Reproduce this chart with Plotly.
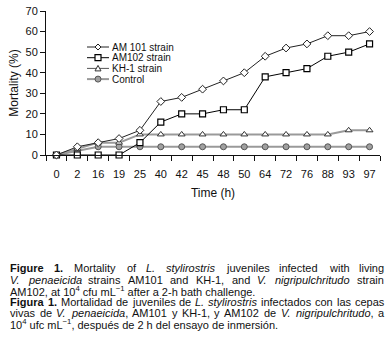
import re
import plotly.graph_objects as go

# ---- data ----
time_labels = ["0", "2", "16", "19", "25", "40", "42", "45", "48", "50", "64", "72", "76", "88", "93", "97"]
am101 = [0, 4, 6, 8, 12, 26, 28, 32, 36, 40, 48, 52, 54, 58, 58, 60]
am102 = [0, 0, 0, 0, 6, 16, 20, 20, 22, 22, 38, 40, 42, 48, 50, 54]
kh1 = [0, 3, 6, 6, 10, 10, 10, 10, 10, 10, 10, 10, 10, 10, 12, 12]
control = [0, 2, 4, 4, 4, 4, 4, 4, 4, 4, 4, 4, 4, 4, 4, 4]
series_names = ["AM 101 strain", "AM102 strain", "KH-1 strain", "Control"]
y_ticks = [0, 10, 20, 30, 40, 50, 60, 70]

W, H = 385, 356
L, R, T, B = 46, 5, 7, 201
PW, PH = W - L - R, H - T - B


def px(x):
    return (x - L) / PW


def py(y):
    return (H - B - y) / PH


FONT = "Liberation Sans, Arial, sans-serif"

fig = go.Figure()

styles = [
    (control, series_names[3], dict(color="#9a9a9a", width=2), dict(symbol="circle", size=6, color="#a0a0a0", line=dict(color="#555", width=1))),
    (kh1, series_names[2], dict(color="#9a9a9a", width=2), dict(symbol="triangle-up", size=6, color="white", line=dict(color="#333", width=1))),
    (am102, series_names[1], dict(color="#000", width=1), dict(symbol="square", size=6, color="white", line=dict(color="#000", width=1.2))),
    (am101, series_names[0], dict(color="#222", width=1), dict(symbol="diamond", size=6, color="white", line=dict(color="#222", width=1))),
]
for vals, name, line, marker in styles:
    fig.add_trace(go.Scatter(x=time_labels, y=vals, name=name, mode="lines+markers",
                             line=line, marker=marker, cliponaxis=False, showlegend=False))

# ---- manual legend (compact, like the original) ----
shapes = []
annotations = []
leg_rows = [44, 55, 66, 77]
leg_line_col = ["#222", "#000", "#555", "#9a9a9a"]
leg_line_w = [1, 1, 1, 2]
for i, (yy, name) in enumerate(zip(leg_rows, series_names)):
    shapes.append(dict(type="line", xref="paper", yref="paper", x0=px(87), x1=px(109), y0=py(yy), y1=py(yy),
                       line=dict(color=leg_line_col[i], width=leg_line_w[i])))
    common = dict(xref="paper", yref="paper", xsizemode="pixel", ysizemode="pixel",
                  xanchor=px(98), yanchor=py(yy))
    if i == 0:
        shapes.append(dict(type="path", path="M0,3 L3,0 L0,-3 L-3,0 Z", fillcolor="white",
                           line=dict(color="#222", width=1), **common))
    elif i == 1:
        shapes.append(dict(type="rect", x0=-3, x1=3, y0=-3, y1=3, fillcolor="white",
                           line=dict(color="#000", width=1.2), **common))
    elif i == 2:
        shapes.append(dict(type="path", path="M-3,-2.5 L3,-2.5 L0,3 Z", fillcolor="white",
                           line=dict(color="#333", width=1), **common))
    else:
        shapes.append(dict(type="circle", x0=-3, x1=3, y0=-3, y1=3, fillcolor="#a0a0a0",
                           line=dict(color="#555", width=1), **common))
    annotations.append(dict(text=name, xref="paper", yref="paper", x=px(110), y=py(yy),
                            xanchor="left", yanchor="middle", showarrow=False,
                            font=dict(family=FONT, size=10, color="#111")))

# ---- caption (justified like the printed figure) ----
REG = {" ": 278, ",": 278, "-": 333, ".": 278, "(": 333, ")": 333, "%": 889}
for c in "0123456789":
    REG[c] = 556
REG.update(dict(A=667, B=667, C=722, D=722, E=667, F=611, G=778, H=722, I=278, J=500, K=667, L=556,
                M=833, N=722, O=778, P=667, Q=778, R=722, S=667, T=611, U=722, V=667, W=944, X=667,
                Y=667, Z=611))
REG.update(dict(a=556, b=556, c=500, d=556, e=556, f=278, g=556, h=556, i=222, j=222, k=500, l=222,
                m=833, n=556, o=556, p=556, q=556, r=333, s=500, t=278, u=556, v=500, w=722, x=500,
                y=500, z=500))
BOLD = dict(REG)
BOLD.update(dict(F=611, i=278, g=611, u=611, r=389, e=556, a=556))

CAP_SIZE = 11
CAP_LEFT, CAP_RIGHT = 8, 382


def word_width(w):
    bold = "<b>" in w
    plain = re.sub(r"<[^>]+>", "", w)
    tab = BOLD if bold else REG
    return sum(tab.get(ch, 556) for ch in plain) * CAP_SIZE / 1000.0


caption_lines = [
    ("<b>Figure</b> <b>1.</b> Mortality of <i>L.</i> <i>stylirostris</i> juveniles infected with living", True),
    ("<i>V.</i> <i>penaeicida</i> strains AM101 and KH-1, and <i>V.</i> <i>nigripulchritudo</i> strain", True),
    ("AM102, at 10<sup>4</sup> cfu mL<sup>−1</sup> after a 2-h bath challenge.", False),
    ("<b>Figura</b> <b>1.</b> Mortalidad de juveniles de <i>L.</i> <i>stylirostris</i> infectados con las cepas", True),
    ("vivas de <i>V.</i> <i>penaeicida</i>, AM101 y KH-1, y AM102 de <i>V.</i> <i>nigripulchritudo</i>, a", True),
    ("10<sup>4</sup> ufc mL<sup>−1</sup>, después de 2 h del ensayo de inmersión.", False),
]
caption_rows = [271.5, 283, 294.5, 306, 317.5, 329]

for (text, justify), yy in zip(caption_lines, caption_rows):
    if not justify:
        annotations.append(dict(text=text, xref="paper", yref="paper", x=px(CAP_LEFT), y=py(yy),
                                xanchor="left", yanchor="middle", showarrow=False,
                                font=dict(family=FONT, size=CAP_SIZE, color="#111")))
        continue
    words = text.split(" ")
    widths = [word_width(w) for w in words]
    gap = (CAP_RIGHT - CAP_LEFT - sum(widths)) / (len(words) - 1)
    xx = CAP_LEFT
    for w, wd in zip(words, widths):
        annotations.append(dict(text=w, xref="paper", yref="paper", x=px(xx), y=py(yy),
                                xanchor="left", yanchor="middle", showarrow=False,
                                font=dict(family=FONT, size=CAP_SIZE, color="#111")))
        xx += wd + gap

fig.update_layout(
    width=W, height=H,
    margin=dict(l=L, r=R, t=T, b=B),
    paper_bgcolor="white", plot_bgcolor="white",
    showlegend=False,
    font=dict(family=FONT, color="#111"),
    shapes=shapes,
    annotations=annotations,
    xaxis=dict(type="category", categoryorder="array", categoryarray=time_labels,
               range=[-0.5, len(time_labels) - 0.5], tickangle=0, ticklabelstandoff=9,
               showline=True, linecolor="#111", linewidth=1, ticks="outside", ticklen=5,
               tickcolor="#111", tickson="boundaries", showgrid=False, zeroline=False,
               tickfont=dict(size=11, family=FONT, color="#111"),
               title=dict(text="Time (h)", font=dict(size=12, family=FONT, color="#111"), standoff=9)),
    yaxis=dict(range=[0, 70], tickvals=y_ticks, showline=True, linecolor="#111", linewidth=1,
               ticks="outside", ticklen=5, tickcolor="#111", showgrid=False, zeroline=False,
               tickfont=dict(size=11, family=FONT, color="#111"),
               title=dict(text="Mortality (%)", font=dict(size=12, family=FONT, color="#111"), standoff=4)),
)

fig.write_html("out.html", config={"displayModeBar": False},
               post_script="document.body.style.margin='0';document.body.style.overflow='hidden';")
